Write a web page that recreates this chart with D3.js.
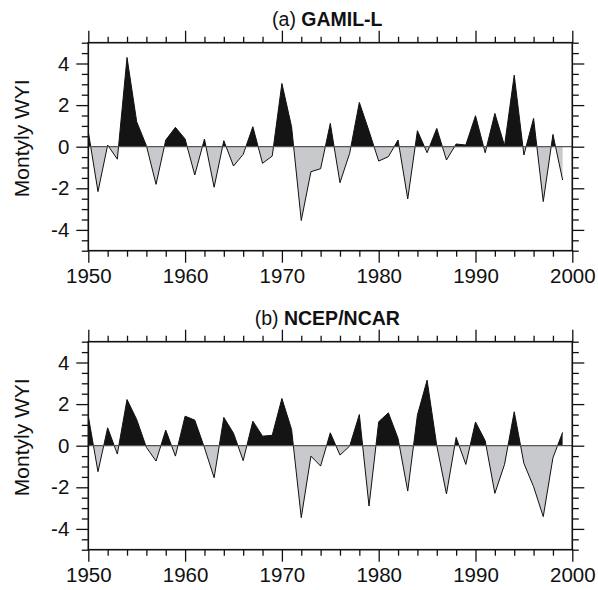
<!DOCTYPE html>
<html>
<head>
<meta charset="utf-8">
<script src="https://cdn.jsdelivr.net/npm/d3@7"></script>
<style>
  html, body { margin: 0; padding: 0; background: #fff; }
  svg { display: block; font-family: "Liberation Sans", Arial, Helvetica, sans-serif; }
</style>
</head>
<body>
<script>
// Monthly WYI index, one value per year 1950-1999
const years = d3.range(1950, 2000);

const gamilValues = [
   0.72, -2.16,  0.08, -0.60,  4.29,  1.20,  0.05, -1.81,  0.32,  0.93,
   0.37, -1.36,  0.37, -1.95,  0.29, -0.93, -0.37,  0.96, -0.80, -0.45,
   3.04,  0.96, -3.55, -1.20, -1.06,  1.12, -1.73, -0.32,  2.13,  0.75,
  -0.69, -0.48,  0.32, -2.51,  0.77, -0.29,  0.88, -0.64,  0.13,  0.08,
   1.49, -0.29,  1.60,  0.05,  3.44, -0.40,  1.36, -2.64,  0.59, -1.60
];

const ncepValues = [
   1.42, -1.25,  0.86, -0.40,  2.22,  1.26, -0.08, -0.74,  0.75, -0.50,
   1.42,  1.23, -0.10, -1.54,  1.36,  0.60, -0.72,  1.18,  0.46,  0.50,
   2.27,  0.78, -3.46, -0.50, -0.98,  0.62, -0.45, -0.02,  1.50, -2.90,
   1.15,  1.58,  0.35, -2.18,  1.47,  3.15,  0.00, -2.32,  0.40, -0.90,
   1.14,  0.24, -2.29, -0.90,  1.63, -0.85, -1.97, -3.41, -0.58,  0.64
];

const xMajorTicks = [1950, 1960, 1970, 1980, 1990, 2000];
const xMinorTicks = d3.range(1952, 2000, 2).filter(d => d % 10 !== 0);
const yMajorTicks = [-4, -2, 0, 2, 4];
const yMinorTicks = d3.range(-5, 5.01, 0.5).filter(d => !(Number.isInteger(d) && d % 2 === 0));

const panels = [
  { prefix: "(a) ", name: "GAMIL-L",   values: gamilValues, top: 42.7 },
  { prefix: "(b) ", name: "NCEP/NCAR", values: ncepValues,  top: 341.7 }
];

const W = 598, H = 590;
const left = 88.3, right = 572.3, plotH = 208;
const posColor = "#141414", negColor = "#c7c9cc";

const svg = d3.select("body").append("svg")
  .attr("width", W).attr("height", H);

const x = d3.scaleLinear().domain([1950, 2000]).range([left, right]);

panels.forEach((p, i) => {
  const y = d3.scaleLinear().domain([-5, 5]).range([p.top + plotH, p.top]);
  const g = svg.append("g");
  const y0 = y(0);

  // clip regions above and below the zero line
  const clipPos = "clipPos" + i, clipNeg = "clipNeg" + i;
  const defs = g.append("defs");
  defs.append("clipPath").attr("id", clipPos).append("rect")
    .attr("x", left).attr("y", p.top).attr("width", right - left).attr("height", y0 - p.top);
  defs.append("clipPath").attr("id", clipNeg).append("rect")
    .attr("x", left).attr("y", y0).attr("width", right - left).attr("height", p.top + plotH - y0);

  const pts = years.map((yr, k) => [yr, p.values[k]]);
  const area = d3.area().x(d => x(d[0])).y0(y0).y1(d => y(d[1]));
  const line = d3.line().x(d => x(d[0])).y(d => y(d[1]));

  g.append("path").datum(pts).attr("d", area)
    .attr("fill", posColor).attr("clip-path", `url(#${clipPos})`);
  g.append("path").datum(pts).attr("d", area)
    .attr("fill", negColor).attr("clip-path", `url(#${clipNeg})`);
  g.append("path").datum(pts).attr("d", line)
    .attr("fill", "none").attr("stroke", "#111").attr("stroke-width", 1)
    .attr("stroke-linejoin", "miter");

  // zero reference line
  g.append("line")
    .attr("x1", left).attr("x2", right).attr("y1", y0).attr("y2", y0)
    .attr("stroke", "#555").attr("stroke-width", 1.3);

  // axes on all four sides, ticks pointing outward
  const styleAxis = sel => {
    sel.select(".domain").remove();
    sel.selectAll(".tick line").attr("stroke", "#111").attr("stroke-width", 1.3);
  };
  const noLabel = () => "";

  const bottom = p.top + plotH;
  g.append("g").attr("transform", `translate(0,${bottom})`)
    .call(d3.axisBottom(x).tickValues(xMajorTicks).tickSize(12).tickPadding(6)
      .tickFormat(d3.format("d")))
    .call(styleAxis)
    .call(s => s.selectAll("text").attr("font-size", 20.5).attr("fill", "#111")
      .attr("font-family", "Liberation Sans, Arial, sans-serif"));
  g.append("g").attr("transform", `translate(0,${bottom})`)
    .call(d3.axisBottom(x).tickValues(xMinorTicks).tickSize(6).tickFormat(noLabel))
    .call(styleAxis);
  g.append("g").attr("transform", `translate(0,${p.top})`)
    .call(d3.axisTop(x).tickValues(xMajorTicks).tickSize(12).tickFormat(noLabel))
    .call(styleAxis);
  g.append("g").attr("transform", `translate(0,${p.top})`)
    .call(d3.axisTop(x).tickValues(xMinorTicks).tickSize(6).tickFormat(noLabel))
    .call(styleAxis);

  g.append("g").attr("transform", `translate(${left},0)`)
    .call(d3.axisLeft(y).tickValues(yMajorTicks).tickSize(12).tickPadding(7)
      .tickFormat(d => String(d)))
    .call(styleAxis)
    .call(s => s.selectAll("text").attr("font-size", 20.5).attr("fill", "#111")
      .attr("font-family", "Liberation Sans, Arial, sans-serif"));
  g.append("g").attr("transform", `translate(${left},0)`)
    .call(d3.axisLeft(y).tickValues(yMinorTicks).tickSize(6.5).tickFormat(noLabel))
    .call(styleAxis);
  g.append("g").attr("transform", `translate(${right},0)`)
    .call(d3.axisRight(y).tickValues(yMajorTicks).tickSize(12).tickFormat(noLabel))
    .call(styleAxis);
  g.append("g").attr("transform", `translate(${right},0)`)
    .call(d3.axisRight(y).tickValues(yMinorTicks).tickSize(6.5).tickFormat(noLabel))
    .call(styleAxis);

  // frame
  g.append("rect")
    .attr("x", left).attr("y", p.top).attr("width", right - left).attr("height", plotH)
    .attr("fill", "none").attr("stroke", "#111").attr("stroke-width", 1.6);

  // y-axis title
  g.append("text")
    .attr("transform", `translate(29,${p.top + 95.6}) rotate(-90)`)
    .attr("text-anchor", "middle")
    .attr("font-size", 21).attr("fill", "#111")
    .text("Montyly WYI");

  // panel title
  const t = g.append("text")
    .attr("x", (left + right) / 2 - 3).attr("y", p.top - 16.7)
    .attr("text-anchor", "middle").attr("font-size", 19.5).attr("fill", "#111");
  t.append("tspan").text(p.prefix);
  t.append("tspan").attr("font-weight", "bold").text(p.name);
});
</script>
</body>
</html>
